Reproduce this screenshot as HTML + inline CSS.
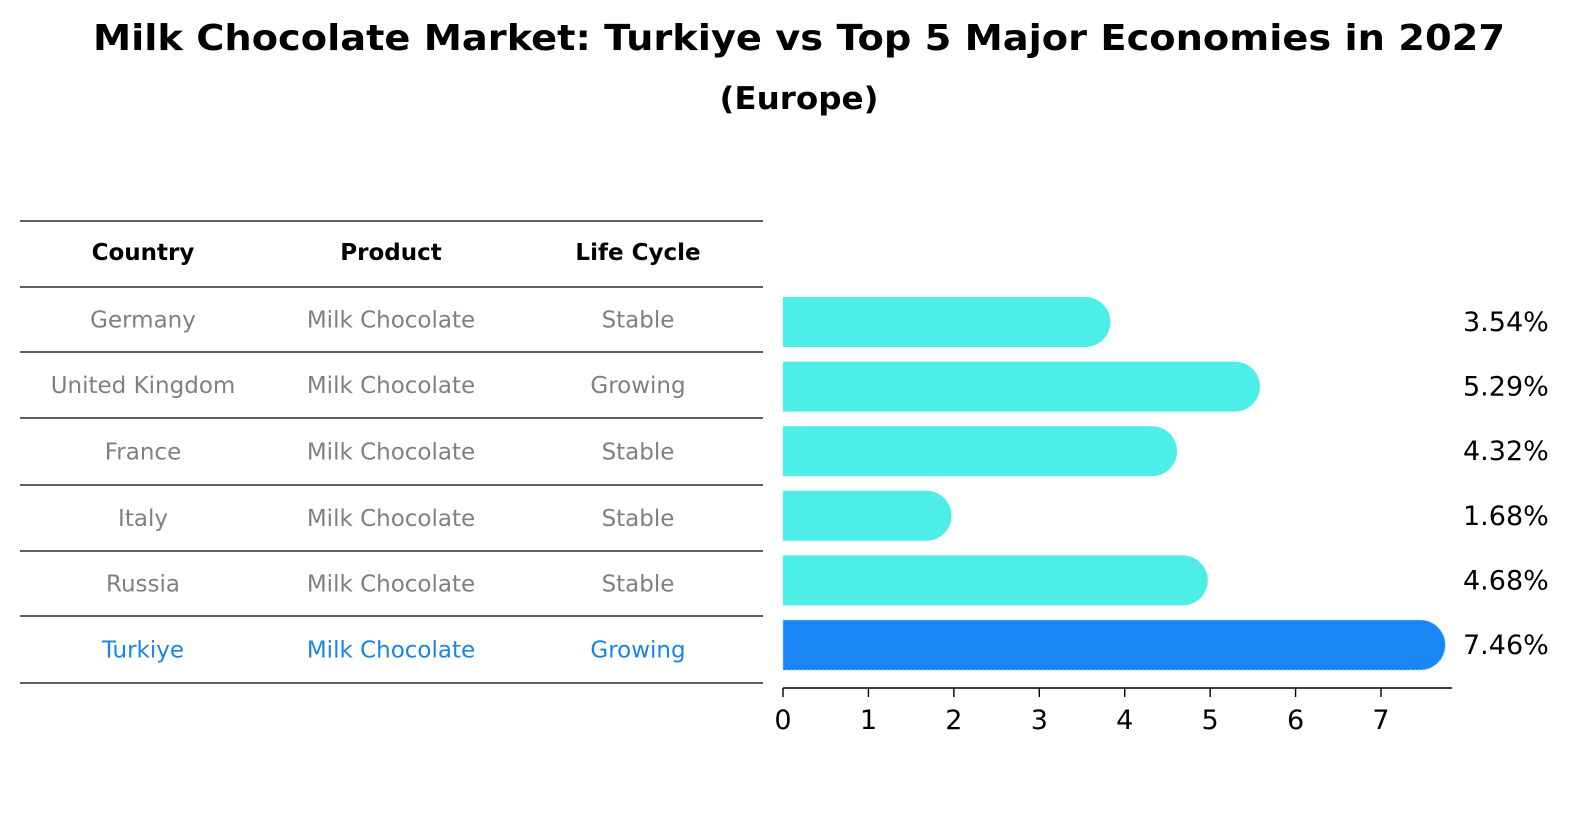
<!DOCTYPE html>
<html><head><meta charset="utf-8"><style>
body{margin:0;background:#fff;}
svg{display:block;font-family:"DejaVu Sans","Liberation Sans",sans-serif;}
</style></head><body>
<svg id="c" width="1586" height="823" viewBox="0 0 1586 823">
<text x="799" y="50" text-anchor="middle" font-size="36" font-weight="bold" textLength="1412" lengthAdjust="spacingAndGlyphs">Milk Chocolate Market: Turkiye vs Top 5 Major Economies in 2027</text>
<text x="799" y="109" text-anchor="middle" font-size="31" font-weight="bold" textLength="159" lengthAdjust="spacingAndGlyphs">(Europe)</text>
<g id="tbl"></g>
<g id="bars"></g>
</svg>
<script>
const countries=["Germany","United Kingdom","France","Italy","Russia","Turkiye"];
const products=["Milk Chocolate","Milk Chocolate","Milk Chocolate","Milk Chocolate","Milk Chocolate","Milk Chocolate"];
const lifeCycles=["Stable","Growing","Stable","Stable","Stable","Growing"];
const values=[3.54,5.29,4.32,1.68,4.68,7.46];
const valueLabels=["3.54%","5.29%","4.32%","1.68%","4.68%","7.46%"];
const tickValues=[0,1,2,3,4,5,6,7];

const NS="http://www.w3.org/2000/svg";
function mk(tag,attrs,parent,text){const e=document.createElementNS(NS,tag);for(const k in attrs)e.setAttribute(k,attrs[k]);if(text!==undefined)e.textContent=text;parent.appendChild(e);return e;}
const tbl=document.getElementById('tbl'),bars=document.getElementById('bars');
const x0=783,unit=(1381-783)/7;
const xs=v=>x0+v*unit;
const rowY=i=>322+i*64.6;
const lines=[221,287,352,418,485,551,616,683];
lines.forEach((y,i)=>{const l=mk('line',{x1:20,x2:763,y1:y,y2:y,stroke:'#000','stroke-width':1.2},tbl);

});
const colX=[143,391,638];
["Country","Product","Life Cycle"].forEach((h,j)=>{const t=mk('text',{x:colX[j],y:260,'text-anchor':'middle','font-size':23,'font-weight':'bold'},tbl,h);

});
countries.forEach((c,i)=>{
  const col=i===5?'#1a85e6':'#808080';
  const y=(lines[i+1]+lines[i+2])/2+8;
  [c,products[i],lifeCycles[i]].forEach((s,j)=>{const t=mk('text',{x:colX[j],y:y,'text-anchor':'middle','font-size':23,fill:col},tbl,s);
  
  });
  const cy=rowY(i),h=50,r=25,xe=xs(values[i]);
  const p=mk('path',{d:`M${x0},${cy-h/2} H${xe} A${r},${r} 0 0 1 ${xe},${cy+h/2} H${x0} Z`,fill:i===5?'#1a85f5':'#4deee8'},bars);
  if(i===5){p.setAttribute('stroke','#9ad0ff');p.setAttribute('stroke-dasharray','2,2');p.setAttribute('stroke-width','1');}
  
  
  const t=mk('text',{x:1463,y:cy+9,'font-size':27},bars,valueLabels[i]);
  
  
});
const ax=mk('line',{x1:x0,x2:1452,y1:688,y2:688,stroke:'#000','stroke-width':1.6},bars);


tickValues.forEach(v=>{const tk=mk('line',{x1:xs(v),x2:xs(v),y1:688,y2:697,stroke:'#000','stroke-width':1.4},bars);


const t=mk('text',{x:xs(v),y:729,'text-anchor':'middle','font-size':27},bars,String(v));

});
</script>
</body></html>
